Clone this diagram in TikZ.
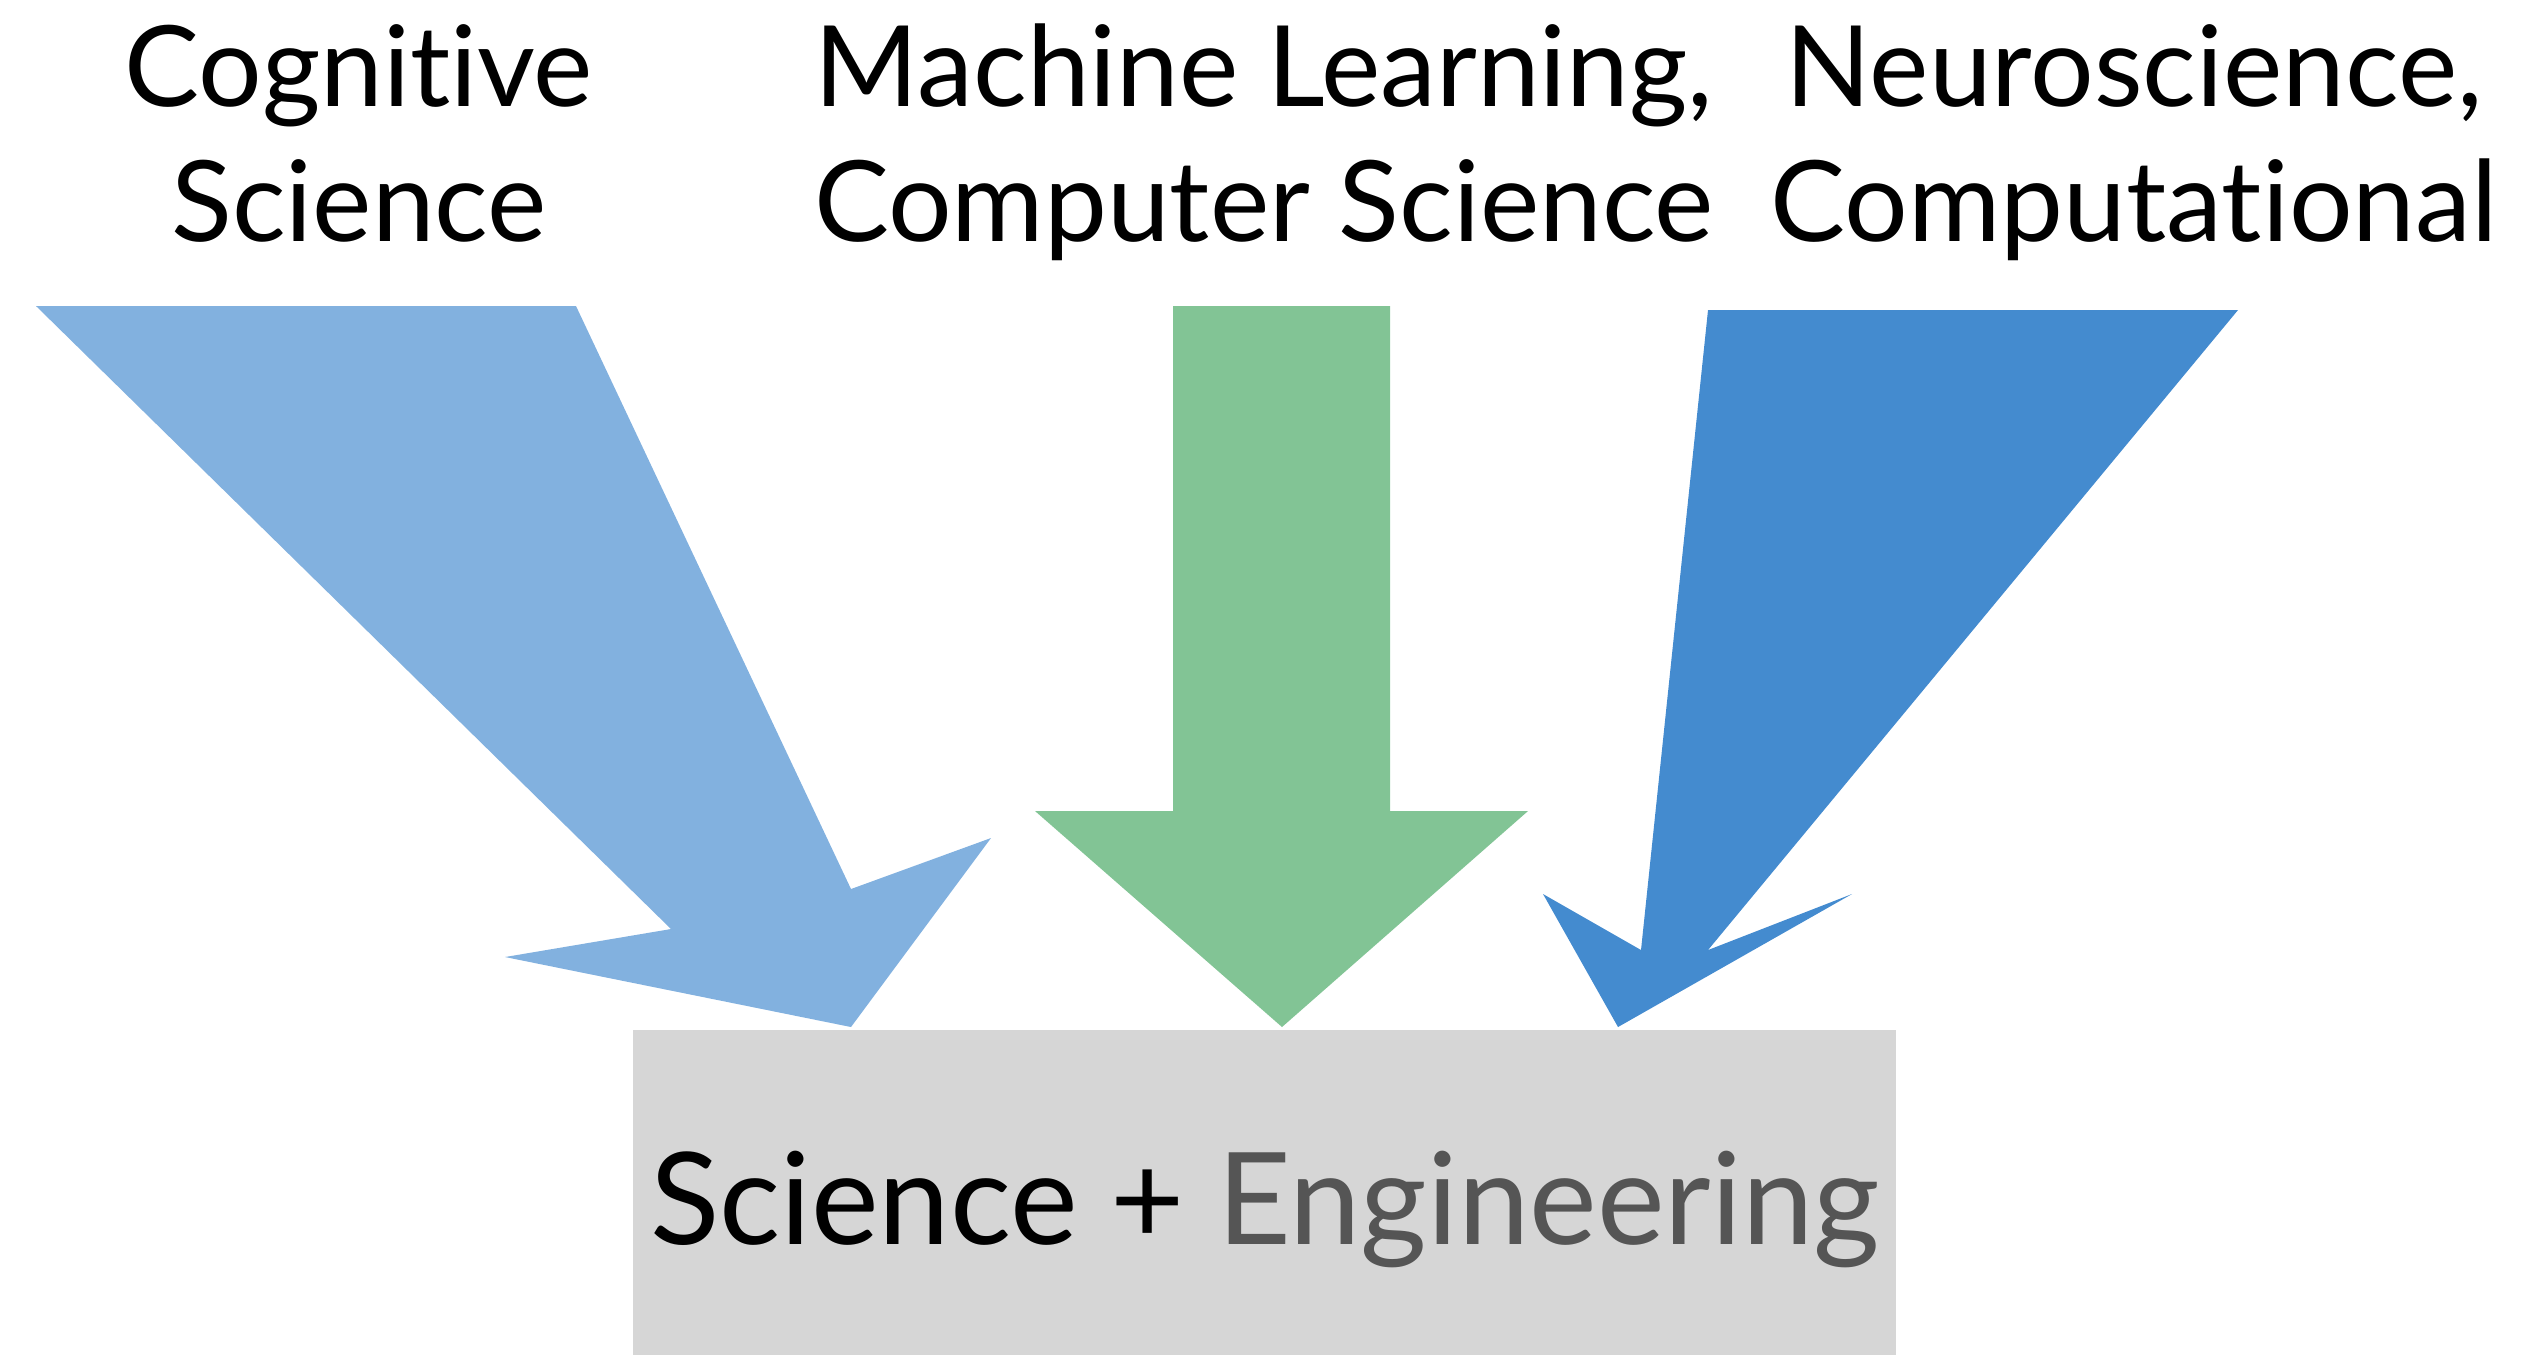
\documentclass[tikz,border=0pt]{standalone}
\usepackage{fontspec}
\setmainfont[Ligatures={NoCommon}]{Lato}
\definecolor{cogblue}{HTML}{82B1DF}
\definecolor{mlgreen}{HTML}{82C495}
\definecolor{neublue}{HTML}{448BCF}
\definecolor{boxgray}{HTML}{D6D6D6}
\definecolor{enggray}{HTML}{555555}
\begin{document}
\begin{tikzpicture}[x=0.3pt,y=-0.3pt,
  toplabel/.style={anchor=base,align=center,font=\fontsize{33.7}{40.5}\selectfont,inner sep=0pt},
  bigarrow/.style={draw=none}]
\useasboundingbox (0,0) rectangle (2546,1355);
% target box
\fill[boxgray] (633,1030) rectangle (1896,1355);
\node[anchor=base,inner sep=0pt,font=\fontsize{38.4}{45}\selectfont] (se) at (1265,1244) {Science + \textcolor{enggray}{Engineering}};
% arrows
\fill[cogblue] (36,306) -- (576,306) -- (851,889) -- (991,838) -- (851,1027) -- (505,957) -- (671,929) -- cycle;
\fill[mlgreen] (1173,306) -- (1390,306) -- (1390,811) -- (1528,811) -- (1282,1027) -- (1035,811) -- (1173,811) -- cycle;
\fill[neublue] (1708,310) -- (2238,310) -- (1708,950) -- (1852,894) -- (1618,1027) -- (1543,894) -- (1641,950) -- cycle;
% labels (anchor base = baseline of last line)
\node[toplabel] (cog) at (359,241) {Cognitive\\Science};
\node[toplabel] (ml) at (1264,241) {Machine Learning,\\Computer Science};
\node[toplabel] (neu) at (2134,241) {Neuroscience,\\Computational};
\end{tikzpicture}
\end{document}
